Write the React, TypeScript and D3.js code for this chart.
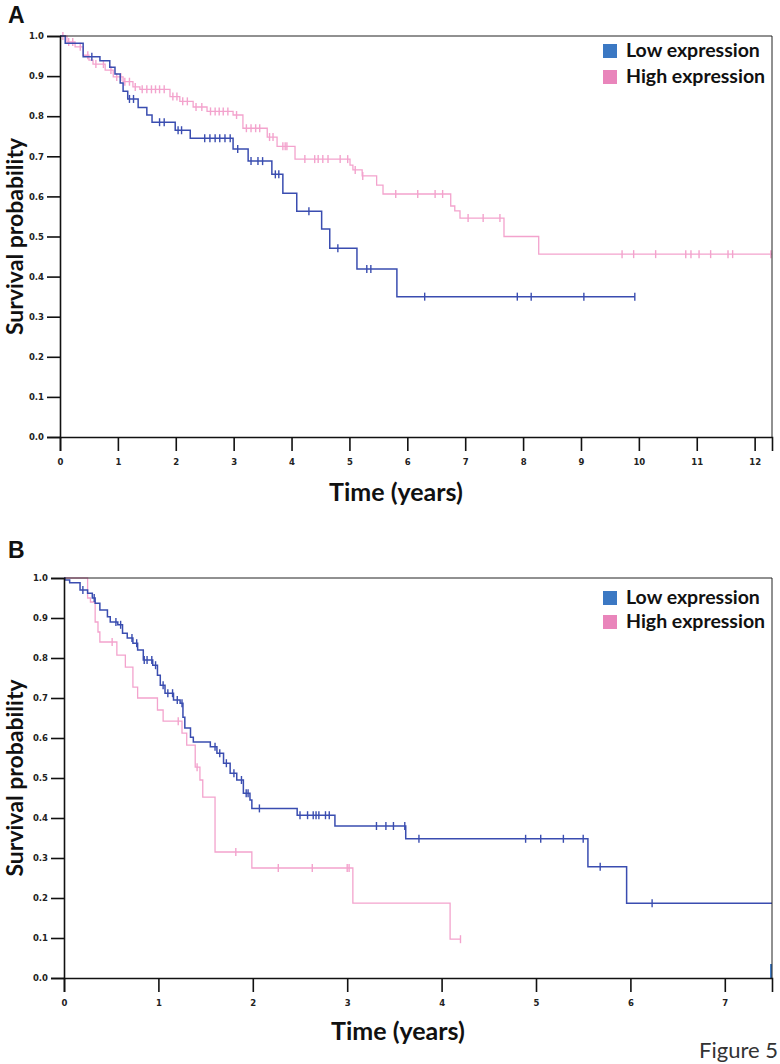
import React, { useEffect, useRef } from 'react';
import * as d3 from 'd3';

// Panel A — step points [years, survival]
const lowA: [number, number][] = [
  [0, 1.0], [0.09, 0.982], [0.4, 0.948], [0.69, 0.938], [0.86, 0.922], [0.95, 0.905],
  [1.04, 0.883], [1.09, 0.862], [1.17, 0.843], [1.35, 0.822], [1.5, 0.803], [1.59, 0.785],
  [1.99, 0.765], [2.25, 0.745], [2.99, 0.718], [3.25, 0.688], [3.66, 0.655], [3.85, 0.608],
  [4.09, 0.563], [4.52, 0.519], [4.66, 0.471], [5.13, 0.419], [5.82, 0.35], [9.93, 0.35],
];
const lowACensor = [
  0.55, 1.2, 1.27, 1.72, 1.8, 2.04, 2.1, 2.5, 2.59, 2.68, 2.76, 2.85, 2.94, 3.07,
  3.3, 3.42, 3.5, 3.72, 3.78, 4.3, 4.8, 5.3, 5.37, 6.3, 7.9, 8.14, 9.05, 9.93,
];
const highA: [number, number][] = [
  [0, 1.0], [0.12, 0.985], [0.26, 0.973], [0.4, 0.952], [0.5, 0.94], [0.57, 0.93],
  [0.78, 0.915], [0.92, 0.898], [1.09, 0.886], [1.26, 0.873], [1.38, 0.867], [1.9, 0.849],
  [2.07, 0.837], [2.3, 0.823], [2.54, 0.812], [2.99, 0.803], [3.16, 0.77], [3.58, 0.748],
  [3.75, 0.725], [4.06, 0.693], [5.01, 0.678], [5.06, 0.666], [5.22, 0.651], [5.47, 0.628],
  [5.58, 0.606], [6.75, 0.576], [6.82, 0.564], [6.91, 0.546], [7.67, 0.5], [8.27, 0.456],
  [12.3, 0.456],
];
const highACensor = [
  0.05, 0.15, 0.22, 0.35, 0.48, 0.62, 0.75, 0.88, 0.98, 1.05, 1.12, 1.2, 1.3, 1.42, 1.5,
  1.58, 1.65, 1.72, 1.8, 1.95, 2.02, 2.12, 2.2, 2.35, 2.45, 2.6, 2.68, 2.75, 2.82, 2.9,
  3.05, 3.22, 3.3, 3.38, 3.45, 3.62, 3.68, 3.85, 3.89, 3.92, 4.23, 4.4, 4.46, 4.54, 4.63,
  4.84, 4.97, 5.1, 5.23, 5.8, 6.18, 6.48, 6.61, 7.05, 7.31, 7.6, 9.71, 9.91, 10.29, 10.81,
  10.9, 11.04, 11.24, 11.54, 11.62, 12.28,
];

// Panel B
const lowB: [number, number][] = [
  [0, 1.0], [0.01, 0.995], [0.06, 0.988], [0.17, 0.97], [0.25, 0.962], [0.3, 0.95],
  [0.33, 0.937], [0.38, 0.92], [0.46, 0.903], [0.49, 0.89], [0.57, 0.883], [0.62, 0.862],
  [0.67, 0.85], [0.73, 0.837], [0.78, 0.82], [0.84, 0.795], [0.94, 0.782], [0.99, 0.757],
  [1.02, 0.732], [1.07, 0.712], [1.16, 0.695], [1.23, 0.687], [1.26, 0.652], [1.28, 0.625],
  [1.34, 0.602], [1.37, 0.59], [1.55, 0.578], [1.62, 0.562], [1.69, 0.537], [1.76, 0.512],
  [1.83, 0.495], [1.9, 0.462], [1.97, 0.445], [1.99, 0.424], [2.47, 0.407], [2.87, 0.38],
  [3.62, 0.348], [5.55, 0.278], [5.96, 0.187], [7.5, 0.187],
];
const lowBCensor = [
  0.2, 0.32, 0.55, 0.6, 0.72, 0.77, 0.85, 0.88, 0.93, 0.97, 1.05, 1.1, 1.15, 1.2, 1.25,
  1.6, 1.65, 1.72, 1.8, 1.88, 1.93, 1.95, 2.07, 2.5, 2.58, 2.64, 2.67, 2.7, 2.77, 2.81,
  3.31, 3.41, 3.49, 3.61, 3.76, 4.89, 5.05, 5.29, 5.5, 5.68, 6.23,
];
// last subject at the right edge, drawn as a stub near zero
const lowBTail: [number, number][] = [[7.49, 0.035], [7.49, 0.0]];
const highB: [number, number][] = [
  [0, 1.0], [0.25, 0.95], [0.28, 0.94], [0.33, 0.89], [0.36, 0.865], [0.38, 0.84],
  [0.56, 0.807], [0.65, 0.777], [0.73, 0.727], [0.78, 0.7], [0.99, 0.67], [1.05, 0.642],
  [1.25, 0.612], [1.3, 0.582], [1.39, 0.527], [1.44, 0.495], [1.47, 0.452], [1.6, 0.315],
  [1.99, 0.275], [3.06, 0.187], [4.09, 0.097], [4.2, 0.097],
];
const highBCensor = [0.51, 1.21, 1.41, 1.82, 2.27, 2.63, 3.0, 3.02, 4.2];

const yTicks = [0, 0.1, 0.2, 0.3, 0.4, 0.5, 0.6, 0.7, 0.8, 0.9, 1.0];
const xTicksA = [0, 1, 2, 3, 4, 5, 6, 7, 8, 9, 10, 11, 12];
const xTicksB = [0, 1, 2, 3, 4, 5, 6, 7];
const legendLabels = ['Low expression', 'High expression'];

const LINE_LOW = '#3a4db0';
const LINE_HIGH = '#f3a3cd';
const KEY_LOW = '#3b78c3';
const KEY_HIGH = '#e985bb';
const TITLE_FONT = 'Lato, "Open Sans", sans-serif';
const TICK_FONT = '"DejaVu Sans", Verdana, sans-serif';

type Panel = {
  letter: string;
  letterY: number;
  left: number; right: number; top: number; bottom: number;
  xMax: number;
  xTicks: number[];
  low: [number, number][]; lowCensor: number[];
  high: [number, number][]; highCensor: number[];
  tail: [number, number][] | null;
  legendY: number; legendGap: number;
  xTitleY: number; yTitleX: number;
};

const panels: Panel[] = [
  {
    letter: 'A', letterY: 23, left: 60, right: 772, top: 36, bottom: 437, xMax: 12.3,
    xTicks: xTicksA, low: lowA, lowCensor: lowACensor, high: highA, highCensor: highACensor,
    tail: null, legendY: 44, legendGap: 26, xTitleY: 501, yTitleX: 23,
  },
  {
    letter: 'B', letterY: 558, left: 64, right: 772, top: 578, bottom: 978, xMax: 7.5,
    xTicks: xTicksB, low: lowB, lowCensor: lowBCensor, high: highB, highCensor: highBCensor,
    tail: lowBTail, legendY: 591, legendGap: 24, xTitleY: 1040, yTitleX: 23,
  },
];

const App = () => {
  const ref = useRef<SVGSVGElement | null>(null);

  useEffect(() => {
    document.body.style.margin = '0';
    const svg = d3.select(ref.current);
    svg.selectAll('*').remove();
    svg.append('rect').attr('width', 780).attr('height', 1064).attr('fill', '#fff');

    panels.forEach((p) => {
      const g = svg.append('g');
      const x = d3.scaleLinear().domain([0, p.xMax]).range([p.left, p.right]);
      const y = d3.scaleLinear().domain([0, 1]).range([p.bottom, p.top]);

      // curves
      const line = d3.line<[number, number]>()
        .x(d => x(d[0])).y(d => y(d[1]))
        .curve(d3.curveStepAfter);
      const bis = d3.bisector((d: [number, number]) => d[0]).right;
      const survAt = (pts: [number, number][], t: number) => pts[Math.max(0, bis(pts, t) - 1)][1];

      const series = [
        { pts: p.high, cens: p.highCensor, color: LINE_HIGH, w: 1.3 },
        { pts: p.low, cens: p.lowCensor, color: LINE_LOW, w: 1.5 },
      ];
      series.forEach(s => {
        g.append('path').attr('d', line(s.pts))
          .attr('fill', 'none').attr('stroke', s.color).attr('stroke-width', s.w);
        g.selectAll(null).data(s.cens).enter().append('line')
          .attr('x1', d => x(d)).attr('x2', d => x(d))
          .attr('y1', d => y(survAt(s.pts, d)) - 4)
          .attr('y2', d => y(survAt(s.pts, d)) + 4)
          .attr('stroke', s.color).attr('stroke-width', 1.4);
      });
      if (p.tail) {
        g.append('path').attr('d', d3.line<[number, number]>().x(d => x(d[0])).y(d => y(d[1]))(p.tail))
          .attr('fill', 'none').attr('stroke', KEY_LOW).attr('stroke-width', 2);
      }

      // frame (top + right)
      g.append('path')
        .attr('d', `M${p.left},${p.top}H${p.right}V${p.bottom}`)
        .attr('fill', 'none').attr('stroke', '#222').attr('stroke-width', 1);

      // y axis
      const yAxis = g.append('g').attr('transform', `translate(${p.left},0)`)
        .call(d3.axisLeft(y).tickValues(yTicks).tickFormat(d3.format('.1f')).tickSize(13).tickPadding(3));
      // x axis
      const xAxis = g.append('g').attr('transform', `translate(0,${p.bottom})`)
        .call(d3.axisBottom(x).tickValues(p.xTicks).tickFormat(d3.format('d')).tickSize(14).tickPadding(8));
      [yAxis, xAxis].forEach(a => {
        a.select('.domain').attr('stroke', '#111').attr('stroke-width', 1.6);
        a.selectAll('.tick line').attr('stroke', '#111').attr('stroke-width', 1.6);
        a.selectAll('.tick text').attr('fill', '#222')
          .style('font-family', TICK_FONT).style('font-size', '8.5px').style('font-weight', '700');
      });

      // legend
      legendLabels.forEach((lab, i) => {
        const ly = p.legendY + i * p.legendGap;
        g.append('rect').attr('x', 603).attr('y', ly).attr('width', 14).attr('height', 14)
          .attr('fill', i === 0 ? KEY_LOW : KEY_HIGH);
        g.append('text').attr('x', 626).attr('y', ly + 13)
          .attr('fill', '#111')
          .style('font-family', TITLE_FONT).style('font-size', '19.5px').style('font-weight', '700')
          .text(lab);
      });

      // panel letter
      g.append('text').attr('x', 8).attr('y', p.letterY)
        .attr('fill', '#111')
        .style('font-family', '"Liberation Sans", Arial, sans-serif').style('font-size', '23px').style('font-weight', '700')
        .text(p.letter);

      // axis titles
      g.append('text').attr('x', (p.left + p.right) / 2 - 20).attr('y', p.xTitleY)
        .attr('text-anchor', 'middle').attr('fill', '#111')
        .style('font-family', TITLE_FONT).style('font-size', '25px').style('font-weight', '700')
        .text('Time (years)');
      g.append('text')
        .attr('transform', `translate(${p.yTitleX},${(p.top + p.bottom) / 2}) rotate(-90)`)
        .attr('text-anchor', 'middle').attr('fill', '#111')
        .style('font-family', TITLE_FONT).style('font-size', '23px').style('font-weight', '700')
        .text('Survival probability');
    });

    svg.append('text').attr('x', 778).attr('y', 1058).attr('text-anchor', 'end')
      .attr('fill', '#333')
      .style('font-family', TITLE_FONT).style('font-size', '22px')
      .text('Figure 5');
  }, []);

  return <svg ref={ref} width={780} height={1064} style={{ display: 'block' }} />;
};

export default App;
